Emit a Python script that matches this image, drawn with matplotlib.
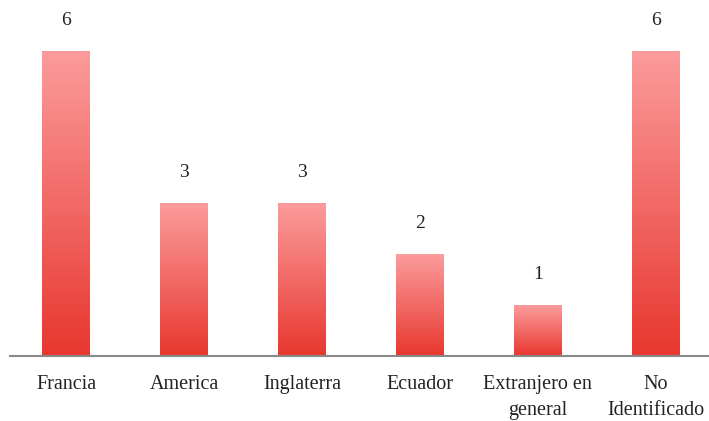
import numpy as np
import matplotlib
matplotlib.use("Agg")
import matplotlib.pyplot as plt
from matplotlib.colors import LinearSegmentedColormap

# data
categories = ["Francia", "America", "Inglaterra", "Ecuador",
              "Extranjero en\ngeneral", "No\nIdentificado"]
values = [6, 3, 3, 2, 1, 6]

plt.rcParams['font.family'] = ['Liberation Serif', 'DejaVu Serif']

fig = plt.figure(figsize=(7.09, 4.21), dpi=100)
ax = fig.add_axes([10 / 709, 65 / 421, 699 / 709, 356 / 421])

x = np.arange(len(categories))
bars = ax.bar(x, values, width=0.4, color="none", edgecolor="none")

# vertical gradient, light pink on top to red at the bottom
cmap = LinearSegmentedColormap.from_list("redgrad", ["#e8372f", "#fb9c9c"])
grad = np.linspace(0, 1, 256).reshape(-1, 1)
for b in bars:
    x0, y0 = b.get_x(), b.get_y()
    w, h = b.get_width(), b.get_height()
    im = ax.imshow(grad, cmap=cmap, origin="lower", aspect="auto",
                   extent=[x0, x0 + w, y0, y0 + h], zorder=2)
    im.set_clip_path(b)

for xi, v in zip(x, values):
    ax.text(xi, v + 0.6, str(v), ha="center", va="center",
            fontsize=14, color="#222222")

ax.set_xlim(-0.475, 5.45)
ax.set_ylim(0, 7.0)
ax.set_xticks(x)
ax.set_xticklabels(categories, fontsize=14.5, color="#222222", linespacing=1.45)
ax.tick_params(axis="x", length=0, pad=14)
ax.set_yticks([])
for s in ["top", "right", "left"]:
    ax.spines[s].set_visible(False)
ax.spines["bottom"].set_color("#888888")
ax.spines["bottom"].set_linewidth(1.5)
ax.spines["bottom"].set_zorder(3)

fig.savefig("out.png", dpi=100)
